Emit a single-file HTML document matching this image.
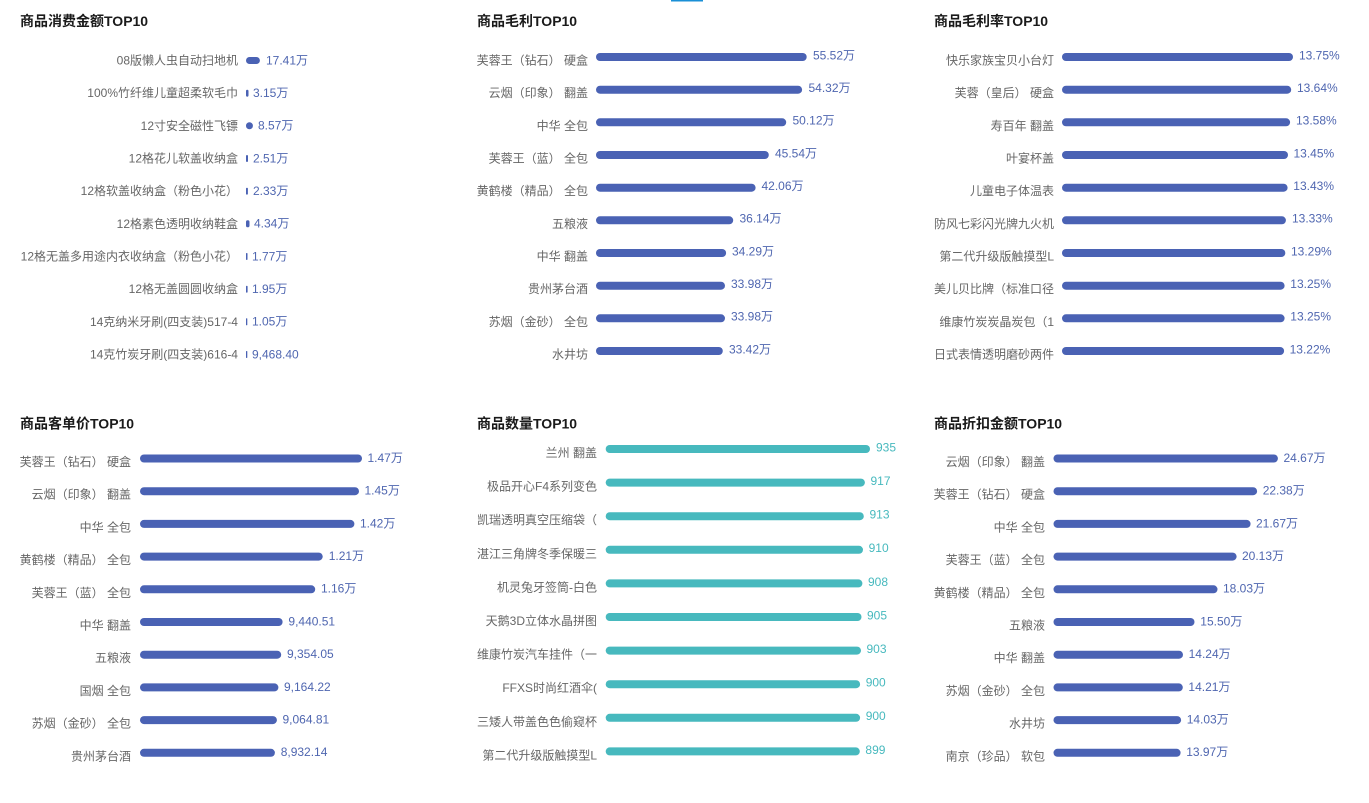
<!DOCTYPE html>
<html><head><meta charset="utf-8">
<style>
html,body{margin:0;padding:0;background:#fff;}
svg{display:block;}
text{font-family:"Liberation Sans","Noto Sans CJK SC",sans-serif;}
.t{font-size:14px;font-weight:bold;fill:#1a1a1a;}
.l{font-size:12px;fill:#666;}
.v{font-size:12px;fill:#4f66b0;}
.vt{font-size:12px;fill:#47b9be;}
.b{fill:#4a62b4;}
.g{fill:#47b9be;}
</style></head>
<body>
<svg width="1369" height="803" viewBox="0 0 1369 803" xmlns="http://www.w3.org/2000/svg">
<rect x="671" y="0" width="32" height="1.5" fill="#1a8fd6"/>

<!-- Chart 1 -->
<text class="t" x="20" y="26">商品消费金额TOP10</text>
<g text-anchor="end" class="l">
<text x="238" y="64.5">08版懒人虫自动扫地机</text>
<text x="238" y="97.2">100%竹纤维儿童超柔软毛巾</text>
<text x="238" y="129.8">12寸安全磁性飞镖</text>
<text x="238" y="162.5">12格花儿软盖收纳盒</text>
<text x="238" y="195.2">12格软盖收纳盒（粉色小花）</text>
<text x="238" y="227.8">12格素色透明收纳鞋盒</text>
<text x="238" y="260.5">12格无盖多用途内衣收纳盒（粉色小花）</text>
<text x="238" y="293.2">12格无盖圆圆收纳盒</text>
<text x="238" y="325.8">14克纳米牙刷(四支装)517-4</text>
<text x="238" y="358.5">14克竹炭牙刷(四支装)616-4</text>
</g>
<rect class="b" x="246" y="57" width="13.9" height="7" rx="3.5"/>
<rect class="b" x="246" y="89.7" width="2.5" height="7" rx="1.2"/>
<rect class="b" x="246" y="122.3" width="6.9" height="7" rx="3.4"/>
<rect class="b" x="246" y="155" width="2" height="7" rx="1"/>
<rect class="b" x="246" y="187.7" width="1.9" height="7" rx="0.9"/>
<rect class="b" x="246" y="220.3" width="3.5" height="7" rx="1.7"/>
<rect class="b" x="246" y="253" width="1.5" height="7" rx="0.7"/>
<rect class="b" x="246" y="285.7" width="1.6" height="7" rx="0.8"/>
<rect class="b" x="246" y="318.3" width="1.3" height="7" rx="0.6"/>
<rect class="b" x="246" y="351" width="1.3" height="7" rx="0.6"/>
<g class="v">
<text x="266" y="64.4">17.41万</text>
<text x="253" y="97.1">3.15万</text>
<text x="258" y="129.7">8.57万</text>
<text x="253" y="162.4">2.51万</text>
<text x="253" y="195.1">2.33万</text>
<text x="254" y="227.7">4.34万</text>
<text x="252" y="260.4">1.77万</text>
<text x="252" y="293.1">1.95万</text>
<text x="252" y="325.7">1.05万</text>
<text x="252" y="358.4">9,468.40</text>
</g>

<!-- Chart 2 -->
<text class="t" x="477" y="26">商品毛利TOP10</text>
<g text-anchor="end" class="l">
<text x="588" y="64.5">芙蓉王（钻石） 硬盒</text>
<text x="588" y="97.2">云烟（印象） 翻盖</text>
<text x="588" y="129.8">中华 全包</text>
<text x="588" y="162.5">芙蓉王（蓝） 全包</text>
<text x="588" y="195.2">黄鹤楼（精品） 全包</text>
<text x="588" y="227.8">五粮液</text>
<text x="588" y="260.5">中华 翻盖</text>
<text x="588" y="293.2">贵州茅台酒</text>
<text x="588" y="325.8">苏烟（金砂） 全包</text>
<text x="588" y="358.5">水井坊</text>
</g>
<rect class="b" x="596" y="53" width="210.7" height="8" rx="4"/>
<rect class="b" x="596" y="85.7" width="206.1" height="8" rx="4"/>
<rect class="b" x="596" y="118.3" width="190.2" height="8" rx="4"/>
<rect class="b" x="596" y="151" width="172.8" height="8" rx="4"/>
<rect class="b" x="596" y="183.7" width="159.6" height="8" rx="4"/>
<rect class="b" x="596" y="216.3" width="137.2" height="8" rx="4"/>
<rect class="b" x="596" y="249" width="130.1" height="8" rx="4"/>
<rect class="b" x="596" y="281.7" width="129" height="8" rx="4"/>
<rect class="b" x="596" y="314.3" width="129" height="8" rx="4"/>
<rect class="b" x="596" y="347" width="126.8" height="8" rx="4"/>
<g class="v">
<text x="813" y="59.4">55.52万</text>
<text x="808.5" y="92.1">54.32万</text>
<text x="792.5" y="124.7">50.12万</text>
<text x="775" y="157.4">45.54万</text>
<text x="761.5" y="190.1">42.06万</text>
<text x="739.5" y="222.7">36.14万</text>
<text x="732" y="255.4">34.29万</text>
<text x="731" y="288.1">33.98万</text>
<text x="731" y="320.7">33.98万</text>
<text x="729" y="353.4">33.42万</text>
</g>

<!-- Chart 3 -->
<text class="t" x="934" y="26">商品毛利率TOP10</text>
<g text-anchor="end" class="l">
<text x="1054" y="64.5">快乐家族宝贝小台灯</text>
<text x="1054" y="97.2">芙蓉（皇后） 硬盒</text>
<text x="1054" y="129.8">寿百年 翻盖</text>
<text x="1054" y="162.5">叶宴杯盖</text>
<text x="1054" y="195.2">儿童电子体温表</text>
<text x="1054" y="227.8">防风七彩闪光牌九火机</text>
<text x="1054" y="260.5">第二代升级版触摸型L</text>
<text x="1054" y="293.2">美儿贝比牌（标准口径</text>
<text x="1054" y="325.8">维康竹炭炭晶炭包（1</text>
<text x="1054" y="358.5">日式表情透明磨砂两件</text>
</g>
<rect class="b" x="1062" y="53" width="231" height="8" rx="4"/>
<rect class="b" x="1062" y="85.7" width="229.2" height="8" rx="4"/>
<rect class="b" x="1062" y="118.3" width="228.1" height="8" rx="4"/>
<rect class="b" x="1062" y="151" width="226" height="8" rx="4"/>
<rect class="b" x="1062" y="183.7" width="225.6" height="8" rx="4"/>
<rect class="b" x="1062" y="216.3" width="223.9" height="8" rx="4"/>
<rect class="b" x="1062" y="249" width="223.3" height="8" rx="4"/>
<rect class="b" x="1062" y="281.7" width="222.6" height="8" rx="4"/>
<rect class="b" x="1062" y="314.3" width="222.6" height="8" rx="4"/>
<rect class="b" x="1062" y="347" width="222.1" height="8" rx="4"/>
<g class="v">
<text x="1299" y="59.4">13.75%</text>
<text x="1297" y="92.1">13.64%</text>
<text x="1296" y="124.7">13.58%</text>
<text x="1293.5" y="157.4">13.45%</text>
<text x="1293.3" y="190.1">13.43%</text>
<text x="1292" y="222.7">13.33%</text>
<text x="1291" y="255.4">13.29%</text>
<text x="1290.3" y="288.1">13.25%</text>
<text x="1290.3" y="320.7">13.25%</text>
<text x="1289.6" y="353.4">13.22%</text>
</g>

<!-- Chart 4 -->
<text class="t" x="20" y="428.5">商品客单价TOP10</text>
<g text-anchor="end" class="l">
<text x="131" y="466">芙蓉王（钻石） 硬盒</text>
<text x="131" y="498.7">云烟（印象） 翻盖</text>
<text x="131" y="531.4">中华 全包</text>
<text x="131" y="564.1">黄鹤楼（精品） 全包</text>
<text x="131" y="596.8">芙蓉王（蓝） 全包</text>
<text x="131" y="629.5">中华 翻盖</text>
<text x="131" y="662.2">五粮液</text>
<text x="131" y="694.9">国烟 全包</text>
<text x="131" y="727.6">苏烟（金砂） 全包</text>
<text x="131" y="760.3">贵州茅台酒</text>
</g>
<rect class="b" x="140" y="454.5" width="222" height="8" rx="4"/>
<rect class="b" x="140" y="487.2" width="219" height="8" rx="4"/>
<rect class="b" x="140" y="519.9" width="214.4" height="8" rx="4"/>
<rect class="b" x="140" y="552.6" width="182.7" height="8" rx="4"/>
<rect class="b" x="140" y="585.3" width="175.2" height="8" rx="4"/>
<rect class="b" x="140" y="618" width="142.6" height="8" rx="4"/>
<rect class="b" x="140" y="650.7" width="141.2" height="8" rx="4"/>
<rect class="b" x="140" y="683.4" width="138.4" height="8" rx="4"/>
<rect class="b" x="140" y="716.1" width="136.9" height="8" rx="4"/>
<rect class="b" x="140" y="748.8" width="134.9" height="8" rx="4"/>
<g class="v">
<text x="367.5" y="461.9">1.47万</text>
<text x="364.5" y="494.6">1.45万</text>
<text x="360" y="527.3">1.42万</text>
<text x="328.7" y="560">1.21万</text>
<text x="321" y="592.7">1.16万</text>
<text x="288.4" y="625.4">9,440.51</text>
<text x="287" y="658.1">9,354.05</text>
<text x="284" y="690.8">9,164.22</text>
<text x="282.5" y="723.5">9,064.81</text>
<text x="280.7" y="756.2">8,932.14</text>
</g>

<!-- Chart 5 -->
<text class="t" x="477" y="428.5">商品数量TOP10</text>
<g text-anchor="end" class="l">
<text x="597" y="457">兰州 翻盖</text>
<text x="597" y="490.6">极品开心F4系列变色</text>
<text x="597" y="524.2">凯瑞透明真空压缩袋（</text>
<text x="597" y="557.8">湛江三角牌冬季保暖三</text>
<text x="597" y="591.4">机灵兔牙签筒-白色</text>
<text x="597" y="625">天鹅3D立体水晶拼图</text>
<text x="597" y="658.6">维康竹炭汽车挂件（一</text>
<text x="597" y="692.2">FFXS时尚红酒伞(</text>
<text x="597" y="725.8">三矮人带盖色色偷窥杯</text>
<text x="597" y="759.4">第二代升级版触摸型L</text>
</g>
<rect class="g" x="605.7" y="445" width="264.3" height="8" rx="4"/>
<rect class="g" x="605.7" y="478.6" width="259.2" height="8" rx="4"/>
<rect class="g" x="605.7" y="512.2" width="258.1" height="8" rx="4"/>
<rect class="g" x="605.7" y="545.8" width="257.3" height="8" rx="4"/>
<rect class="g" x="605.7" y="579.4" width="256.7" height="8" rx="4"/>
<rect class="g" x="605.7" y="613" width="255.8" height="8" rx="4"/>
<rect class="g" x="605.7" y="646.6" width="255.3" height="8" rx="4"/>
<rect class="g" x="605.7" y="680.2" width="254.4" height="8" rx="4"/>
<rect class="g" x="605.7" y="713.8" width="254.4" height="8" rx="4"/>
<rect class="g" x="605.7" y="747.4" width="254.1" height="8" rx="4"/>
<g class="vt">
<text x="876" y="451.4">935</text>
<text x="870.5" y="485">917</text>
<text x="869.5" y="518.6">913</text>
<text x="868.6" y="552.2">910</text>
<text x="868" y="585.8">908</text>
<text x="867" y="619.4">905</text>
<text x="866.5" y="653">903</text>
<text x="865.7" y="686.6">900</text>
<text x="865.7" y="720.2">900</text>
<text x="865.4" y="753.8">899</text>
</g>

<!-- Chart 6 -->
<text class="t" x="934" y="428.5">商品折扣金额TOP10</text>
<g text-anchor="end" class="l">
<text x="1045" y="466">云烟（印象） 翻盖</text>
<text x="1045" y="498.7">芙蓉王（钻石） 硬盒</text>
<text x="1045" y="531.4">中华 全包</text>
<text x="1045" y="564.1">芙蓉王（蓝） 全包</text>
<text x="1045" y="596.8">黄鹤楼（精品） 全包</text>
<text x="1045" y="629.5">五粮液</text>
<text x="1045" y="662.2">中华 翻盖</text>
<text x="1045" y="694.9">苏烟（金砂） 全包</text>
<text x="1045" y="727.6">水井坊</text>
<text x="1045" y="760.3">南京（珍品） 软包</text>
</g>
<rect class="b" x="1053.5" y="454.5" width="224.4" height="8" rx="4"/>
<rect class="b" x="1053.5" y="487.2" width="203.6" height="8" rx="4"/>
<rect class="b" x="1053.5" y="519.9" width="197.1" height="8" rx="4"/>
<rect class="b" x="1053.5" y="552.6" width="183.1" height="8" rx="4"/>
<rect class="b" x="1053.5" y="585.3" width="164" height="8" rx="4"/>
<rect class="b" x="1053.5" y="618" width="141" height="8" rx="4"/>
<rect class="b" x="1053.5" y="650.7" width="129.5" height="8" rx="4"/>
<rect class="b" x="1053.5" y="683.4" width="129.3" height="8" rx="4"/>
<rect class="b" x="1053.5" y="716.1" width="127.6" height="8" rx="4"/>
<rect class="b" x="1053.5" y="748.8" width="127.1" height="8" rx="4"/>
<g class="v">
<text x="1283.5" y="461.9">24.67万</text>
<text x="1262.7" y="494.6">22.38万</text>
<text x="1256" y="527.3">21.67万</text>
<text x="1242" y="560">20.13万</text>
<text x="1223" y="592.7">18.03万</text>
<text x="1200.3" y="625.4">15.50万</text>
<text x="1188.6" y="658.1">14.24万</text>
<text x="1188.4" y="690.8">14.21万</text>
<text x="1186.7" y="723.5">14.03万</text>
<text x="1186.2" y="756.2">13.97万</text>
</g>
</svg>
</body></html>
